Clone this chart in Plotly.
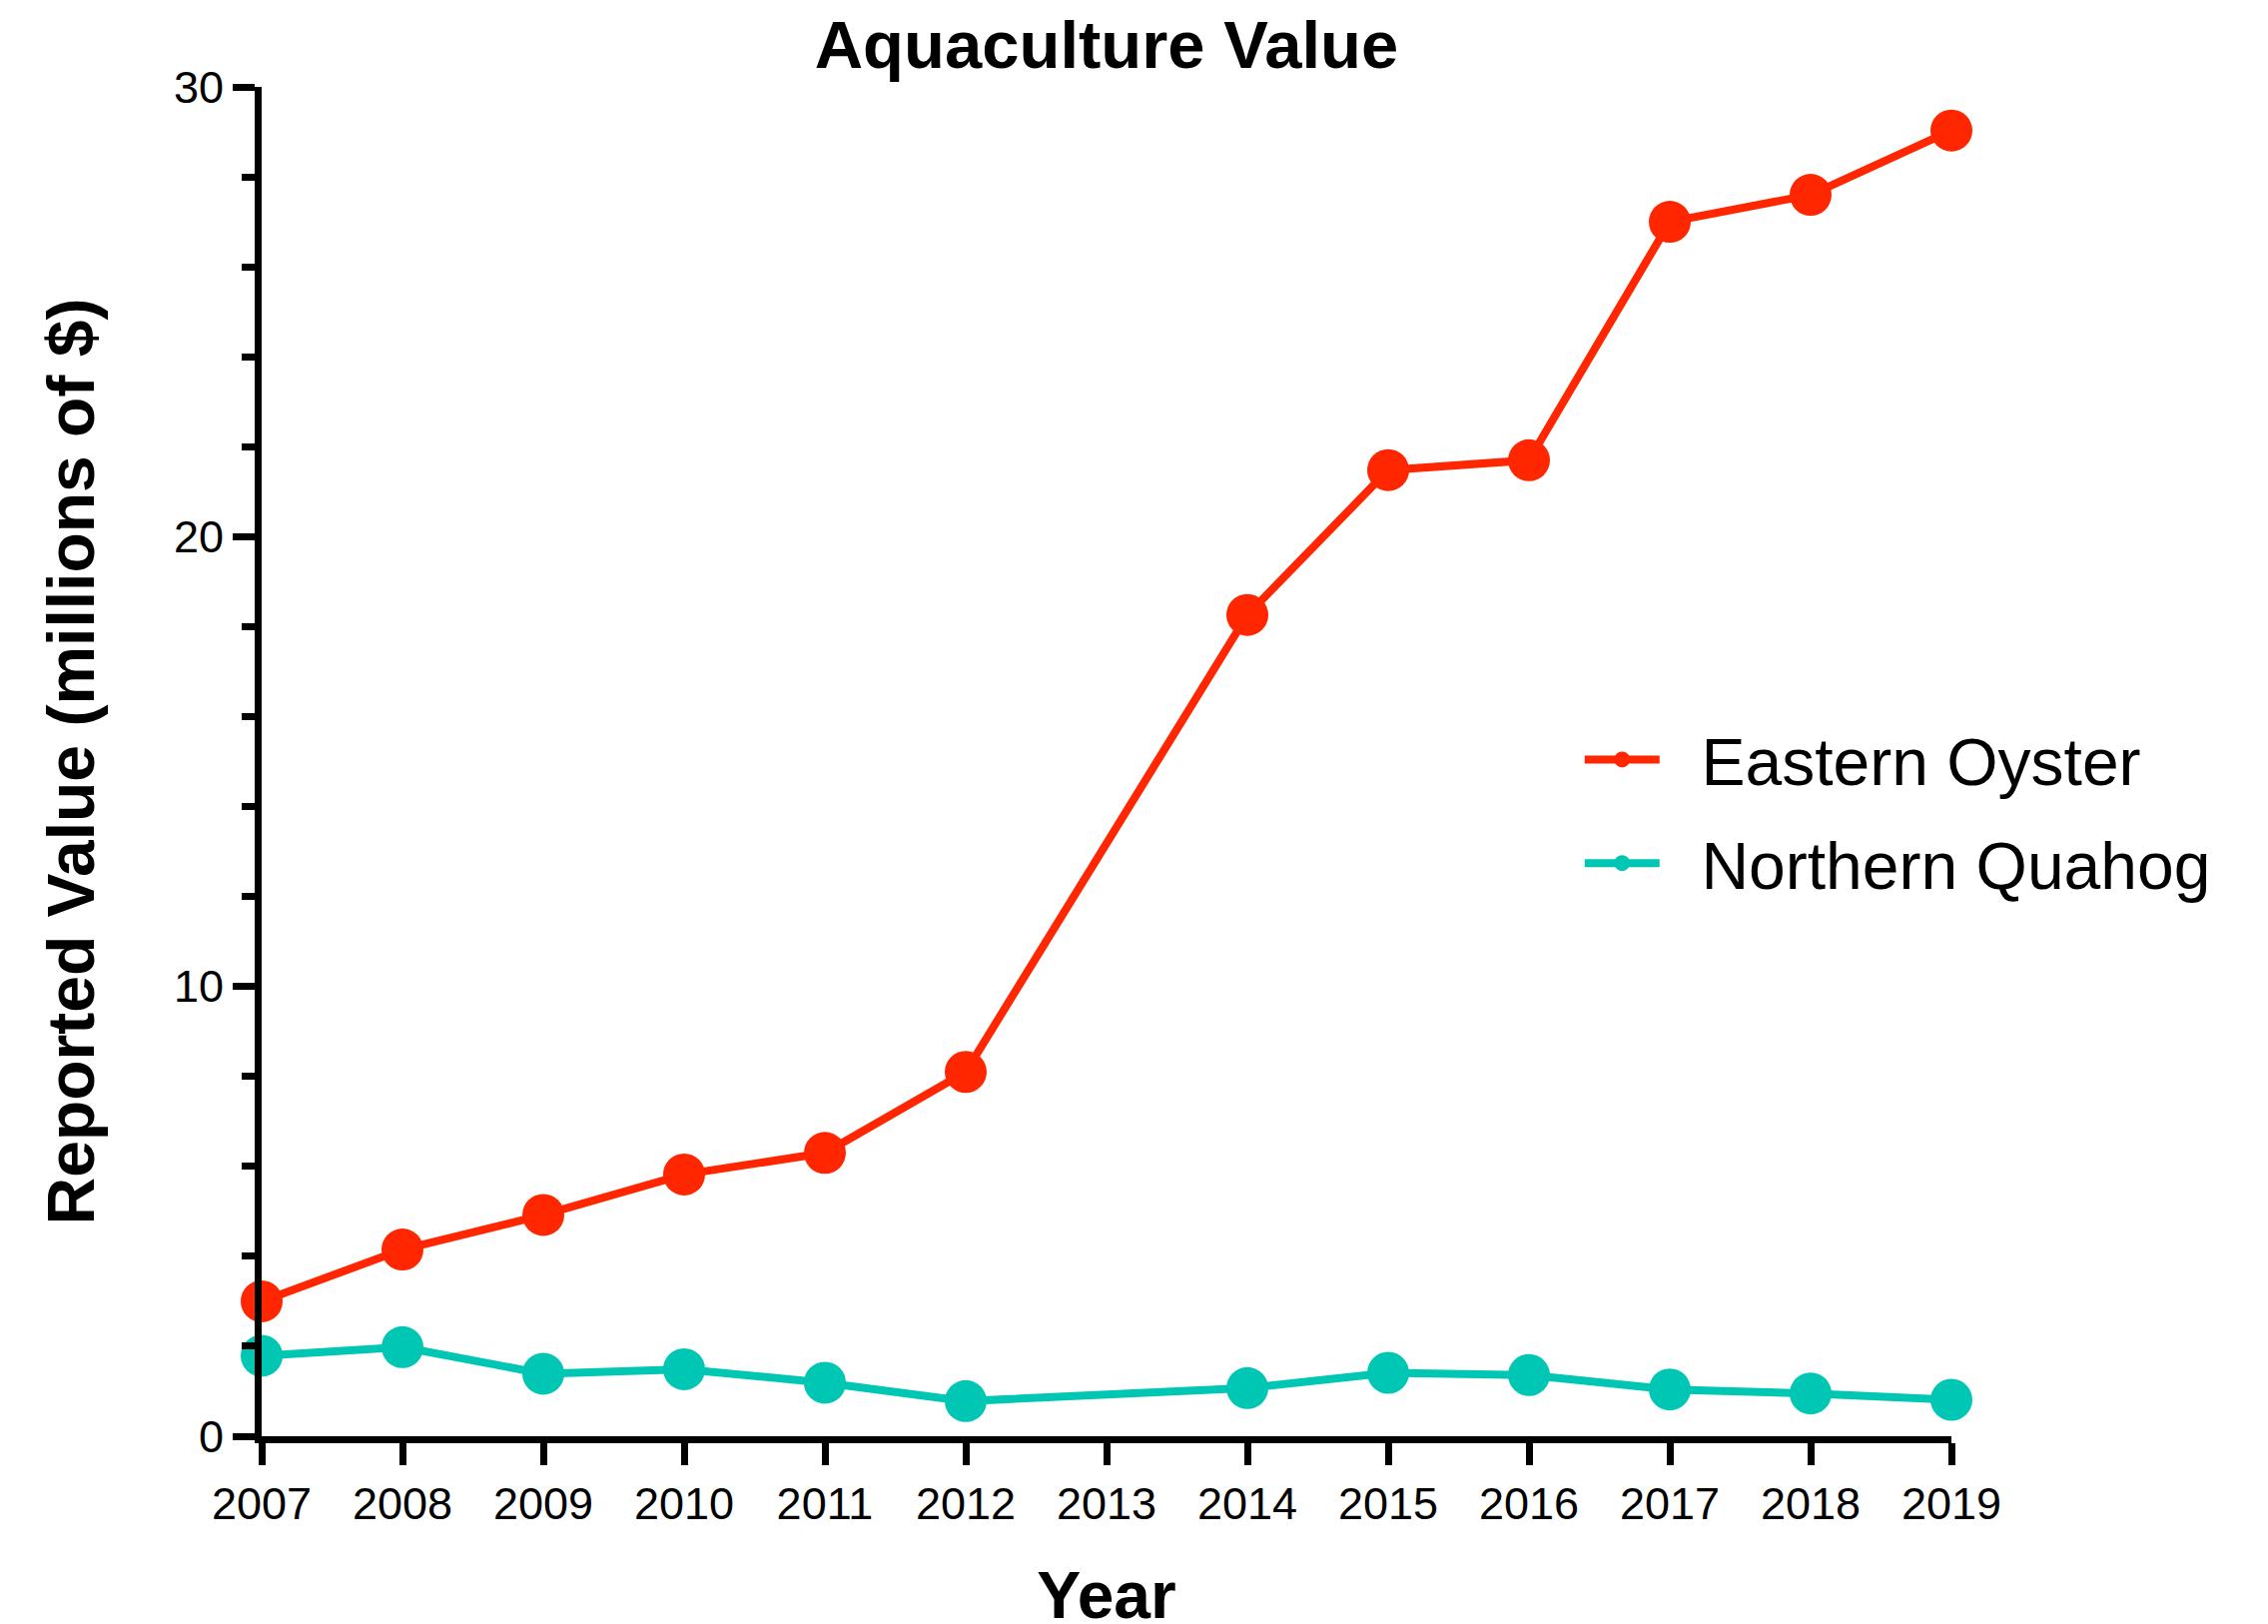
import plotly.graph_objects as go

years = [2007, 2008, 2009, 2010, 2011, 2012, 2014, 2015, 2016, 2017, 2018, 2019]
eastern_oyster = [3.0, 4.15, 4.92, 5.82, 6.30, 8.10, 18.26, 21.48, 21.70, 27.0, 27.6, 29.03]
northern_quahog = [1.79, 1.98, 1.39, 1.49, 1.19, 0.78, 1.07, 1.41, 1.36, 1.04, 0.95, 0.81]
x_ticks = list(range(2007, 2020))
y_ticks = [0, 10, 20, 30]

RED = "#FF2600"
TEAL = "#00C6B4"
FONT = "Liberation Sans, Arial, sans-serif"
PAD = "\u00a0\u00a0"

fig = go.Figure()
fig.add_trace(go.Scatter(x=years, y=eastern_oyster, mode="lines+markers", name=PAD + "Eastern Oyster",
                         legendgroup="a", line=dict(color=RED, width=8),
                         marker=dict(color=RED, size=42), cliponaxis=False))
fig.add_trace(go.Scatter(x=years, y=northern_quahog, mode="lines+markers", name=PAD + "Northern Quahog",
                         legendgroup="b", line=dict(color=TEAL, width=8),
                         marker=dict(color=TEAL, size=42), cliponaxis=False))

fig.update_layout(
    width=2271, height=1626,
    margin=dict(l=254, r=325, t=79, b=196),
    paper_bgcolor="white", plot_bgcolor="white",
    font=dict(family=FONT, color="black", size=45),
    title=dict(text="<b>Aquaculture Value</b>", x=0.5, xref="paper", xanchor="center",
               y=1 - 37 / 1626, yanchor="middle", font=dict(size=67, family=FONT)),
    legend=dict(x=0.78, y=0.463, xanchor="left", yanchor="middle", font=dict(size=66),
                itemwidth=75, tracegroupgap=15, bgcolor="rgba(0,0,0,0)"),
    xaxis=dict(range=[2007, 2019], tickmode="array", tickvals=x_ticks,
               ticktext=[str(v) for v in x_ticks], automargin=False,
               showline=True, linecolor="black", linewidth=7, showgrid=False, zeroline=False,
               ticks="outside", ticklen=22, tickwidth=7, tickcolor="black",
               tickfont=dict(size=45),
               title=dict(text="<b>Year</b>", font=dict(size=66), standoff=78)),
    yaxis=dict(range=[0, 30], tickmode="array", tickvals=y_ticks, automargin=False,
               showline=True, linecolor="black", linewidth=7, showgrid=False, zeroline=False,
               ticks="outside", ticklen=22, tickwidth=7, tickcolor="black",
               tickfont=dict(size=45),
               minor=dict(dtick=2, ticks="outside", ticklen=13, tickwidth=7, tickcolor="black",
                          showgrid=False),
               title=dict(text="<b>Reported Value (millions of $)</b>", font=dict(size=66), standoff=60)),
)

fig.write_html("out.html")
